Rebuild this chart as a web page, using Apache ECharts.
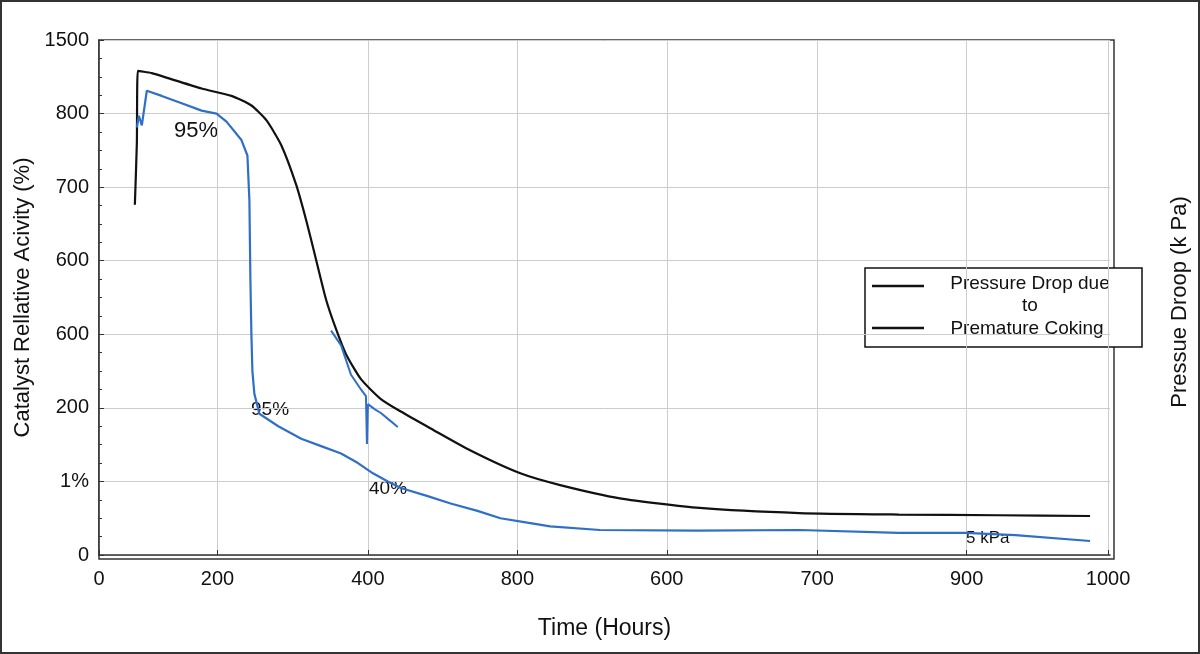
<!DOCTYPE html>
<html><head><meta charset="utf-8">
<script src="https://cdn.jsdelivr.net/npm/echarts@6/dist/echarts.min.js"></script>
<style>html,body{margin:0;padding:0;background:#fff}#c{width:1200px;height:654px;box-sizing:border-box;border:2px solid #333}</style>
</head><body><div id="c"></div>
<script>
// x in plot units (0..1015), y in tick-slot units (0..7)
const xTickPos = [0,119,270,420,570,721,871,1013];
const xTickLabels = ['0','200','400','800','600','700','900','1000'];
const yTickLabels = ['0','1%','200','600','600','700','800','1500'];
const blackX = [36,38,39,53,103,133,153,168,183,198,208,218,228,238,248,263,283,303,333,373,423,463,523,603,703,803,903,995];
const blackY = [4.76,5.6,6.58,6.55,6.34,6.24,6.11,5.91,5.57,5.03,4.55,4.01,3.47,3.07,2.73,2.39,2.12,1.95,1.72,1.42,1.11,0.95,0.77,0.64,0.57,0.55,0.54,0.53];
const blueX = [38,40,43,48,63,83,103,118,128,143,149,151,152,153,154,156,161,180,203,223,243,260,275,290,303,330,353,380,403,430,453,503,600,703,803,870,920,995];
const blueY = [5.81,5.97,5.84,6.31,6.24,6.14,6.04,6.0,5.89,5.64,5.43,4.82,3.74,3.0,2.5,2.19,1.92,1.75,1.58,1.48,1.38,1.25,1.11,1.0,0.91,0.8,0.7,0.6,0.5,0.44,0.39,0.34,0.33,0.34,0.30,0.30,0.27,0.19];
const blue2X = [233,243,253,263,268,269,270,277,283,291,300];
const blue2Y = [3.05,2.85,2.45,2.25,2.16,1.51,2.05,1.98,1.93,1.84,1.74];
const pair=(a,b)=>a.map((v,i)=>[v,b[i]]);
const chart = echarts.init(document.getElementById('c'));
const F='Liberation Sans, Arial, sans-serif';
chart.setOption({
  animation:false,
  grid:{left:97,right:88,top:38,bottom:97},
  xAxis:{type:'value',min:0,max:1015,
    axisLine:{lineStyle:{color:'#333',width:1.5}},
    axisTick:{customValues:xTickPos,inside:true,length:5,lineStyle:{color:'#333'}},
    axisLabel:{customValues:xTickPos,formatter:v=>xTickLabels[xTickPos.indexOf(v)],fontSize:20,color:'#111',margin:14,fontFamily:F},
    splitLine:{show:true,lineStyle:{color:'#ccc'}},
    name:'Time (Hours)',nameLocation:'middle',nameGap:62,nameTextStyle:{fontSize:23,color:'#111',fontFamily:F}},
  yAxis:{type:'value',min:0,max:7,interval:1,
    axisLine:{show:true,lineStyle:{color:'#333',width:1.5}},
    axisTick:{show:true,inside:true,length:5,lineStyle:{color:'#333'}},
    minorTick:{show:true,splitNumber:4,length:3,lineStyle:{color:'#333'}},
    axisLabel:{formatter:v=>yTickLabels[v],fontSize:20,color:'#111',margin:10,fontFamily:F},
    splitLine:{show:true,lineStyle:{color:'#ccc'}},
    name:'Catalyst Rellative Acivity (%)',nameLocation:'middle',nameGap:64,nameTextStyle:{fontSize:22,color:'#111',fontFamily:F}},
  series:[
    {type:'line',data:pair(blackX,blackY),symbol:'none',smooth:0.2,lineStyle:{color:'#111',width:2.2}},
    {type:'line',data:pair(blueX,blueY),symbol:'none',lineStyle:{color:'#2f6fc8',width:2.2}},
    {type:'line',data:pair(blue2X,blue2Y),symbol:'none',lineStyle:{color:'#2f6fc8',width:2}}
  ],
  graphic:[
    {type:'rect',shape:{x:97,y:38,width:1015,height:519},style:{fill:'none',stroke:'#333',lineWidth:1.5},silent:true},
    {type:'text',x:172,y:118,style:{text:'95%',fontSize:22,fill:'#111',fontFamily:F}},
    {type:'text',x:249,y:398,style:{text:'95%',fontSize:19,fill:'#111',fontFamily:F}},
    {type:'text',x:367,y:477,style:{text:'40%',fontSize:19,fill:'#111',fontFamily:F}},
    {type:'text',x:964,y:528,style:{text:'5 kPa',fontSize:17,fill:'#111',fontFamily:F}},
    {type:'rect',shape:{x:863,y:266,width:277,height:79},style:{fill:'#fff',stroke:'#111',lineWidth:1.5}},
    {type:'line',shape:{x1:870,y1:284,x2:922,y2:284},style:{stroke:'#111',lineWidth:2.5}},
    {type:'line',shape:{x1:870,y1:326,x2:922,y2:326},style:{stroke:'#111',lineWidth:2.5}},
    {type:'text',x:1028,y:272,style:{text:'Pressure Drop due',fontSize:19,fill:'#111',align:'center',fontFamily:F}},
    {type:'text',x:1028,y:294,style:{text:'to',fontSize:19,fill:'#111',align:'center',fontFamily:F}},
    {type:'text',x:1025,y:317,style:{text:'Premature Coking',fontSize:19,fill:'#111',align:'center',fontFamily:F}},
    {type:'text',x:1178,y:300,rotation:Math.PI/2,style:{text:'Pressue Droop (k Pa)',fontSize:22,fill:'#111',align:'center',verticalAlign:'middle',fontFamily:F}}
  ]
});
</script></body></html>
